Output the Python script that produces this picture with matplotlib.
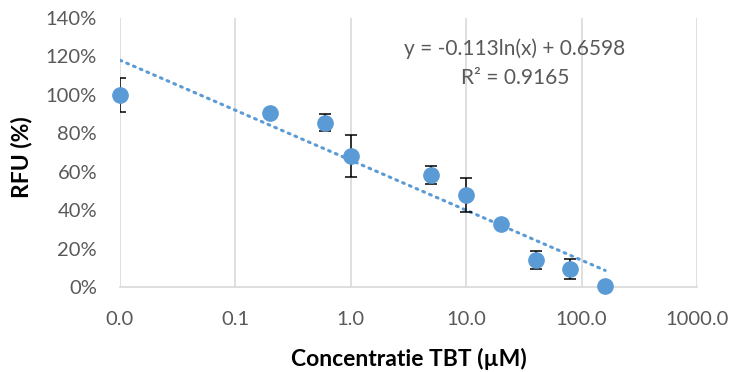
import numpy as np
import matplotlib
matplotlib.use('Agg')
import matplotlib.pyplot as plt
from matplotlib.ticker import FuncFormatter, FixedLocator

plt.rcParams['font.family'] = ['Lato', 'DejaVu Sans']

# data
conc = [0.01, 0.2, 0.6, 1.0, 5.0, 10.0, 20.0, 40.0, 80.0, 160.0]       # TBT (uM)
rfu = [1.00, 0.908, 0.856, 0.684, 0.583, 0.479, 0.328, 0.141, 0.094, 0.005]
err = [0.09, 0.015, 0.044, 0.109, 0.045, 0.088, 0.015, 0.048, 0.05, 0.005]
x_ticks = [0.01, 0.1, 1, 10, 100, 1000]
x_labels = ['0.0', '0.1', '1.0', '10.0', '100.0', '1000.0']

# log trendline from Excel
slope, intercept = -0.113, 0.6598
r2 = 0.9165

blue = '#5B9BD5'
grey = '#595959'

fig = plt.figure(figsize=(7.34, 3.72), dpi=100)
ax = fig.add_axes([120 / 734, 1 - 287 / 372, 577 / 734, 269 / 372])

xt = np.logspace(np.log10(conc[0]), np.log10(conc[-1]), 200)
ax.plot(xt, slope * np.log(xt) + intercept, linestyle=(0, (0.6, 1.8)), color=blue,
        linewidth=2.2, dash_capstyle='round', zorder=2)

ax.errorbar(conc, rfu, yerr=err, fmt='none', ecolor='black',
            elinewidth=1.1, capsize=4.5, capthick=1.1, zorder=3)
ax.plot(conc, rfu, 'o', color=blue, markersize=11, clip_on=False, zorder=4)

ax.set_xscale('log')
ax.set_xlim(0.01, 1000)
ax.set_ylim(0, 1.4)
ax.xaxis.set_major_locator(FixedLocator(x_ticks))
ax.xaxis.set_minor_locator(FixedLocator([]))
ax.set_xticks(x_ticks)
ax.set_xticklabels(x_labels)
ax.set_yticks(np.arange(0, 1.41, 0.2))
ax.yaxis.set_major_formatter(FuncFormatter(lambda v, p: f'{v * 100:.0f}%'))

ax.grid(axis='x', color='#D9D9D9', linewidth=1.2)
ax.set_axisbelow(True)
for s in ['top', 'right', 'left']:
    ax.spines[s].set_visible(False)
ax.spines['bottom'].set_color('#D9D9D9')
ax.spines['bottom'].set_linewidth(1.2)
ax.tick_params(axis='both', length=0, labelsize=14.5, colors=grey)
ax.tick_params(axis='x', pad=17)
ax.tick_params(axis='y', pad=16.5)

ax.set_xlabel('Concentratie TBT (µM)', fontsize=16.5, fontweight='bold')
ax.xaxis.label.set_va('center')
ax.xaxis.set_label_coords(0.5, (287 - 359) / 269)
ax.set_ylabel('RFU (%)', fontsize=16.5, fontweight='bold')
ax.yaxis.label.set_va('center')
ax.yaxis.set_label_coords((22 - 120) / 577, (287 - 157) / 269)

fig.text(515 / 734, 1 - 49 / 372, 'y = -0.113ln(x) + 0.6598', ha='center', va='center',
         fontsize=15, color=grey)
fig.text(515 / 734, 1 - 78 / 372, f'R² = {r2}', ha='center', va='center',
         fontsize=15, color=grey)

fig.savefig('out.png', dpi=100)
plt.close(fig)
